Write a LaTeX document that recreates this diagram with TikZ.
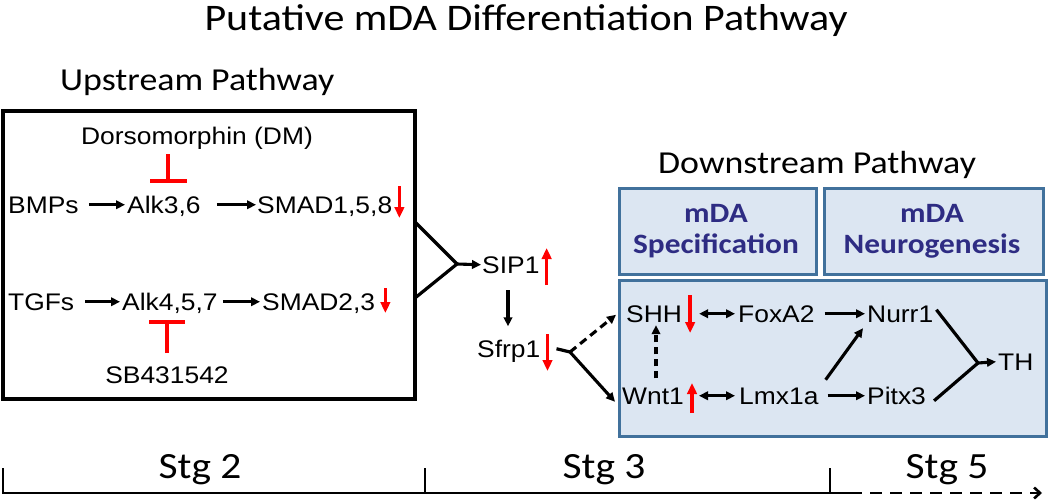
\documentclass[tikz,border=0pt]{standalone}
\usepackage{fontspec}
\setmainfont{Liberation Sans}[FakeStretch=1.1]
\newfontfamily\calfont{Carlito}[FakeStretch=1.12]
\usetikzlibrary{arrows.meta,calc}
\definecolor{boxfill}{HTML}{DCE6F2}
\definecolor{boxline}{HTML}{41719C}
\definecolor{spectext}{HTML}{2E2C83}
\newcommand{\fsz}[1]{\fontsize{#1}{#1}\selectfont}
\tikzset{
  txt/.style={anchor=base west, inner sep=0pt, text height=16.5pt, text depth=0pt, font=\fsz{24}},
  ctxt/.style={txt, anchor=base},
  hdr/.style={anchor=base west, inner sep=0pt, font=\calfont\fsz{32}},
  arr/.style={line width=3.1pt, -{Triangle[length=9pt,width=8.5pt]}},
  darr/.style={line width=3.1pt, {Triangle[length=9pt,width=8.5pt]}-{Triangle[length=9pt,width=8.5pt]}},
  dasharr/.style={arr, dash pattern=on 7pt off 4pt},
  plain/.style={line width=3.2pt},
  upr/.style={red, line width=3.4pt, -{Triangle[length=11pt,width=9.5pt]}},
  inh/.style={red, line width=3.4pt},
  bluebox/.style={draw=boxline, fill=boxfill, line width=3pt},
  spec/.style={inner sep=0pt, align=center, text=spectext, font=\calfont\bfseries\fsz{28}},
  stg/.style={anchor=base, inner sep=0pt, font=\calfont\fsz{37}},
  tl/.style={line width=2.6pt},
}
\begin{document}
\begin{tikzpicture}[x=1pt,y=-1pt]
\useasboundingbox (0,0) rectangle (1050,503);

% titles
\node[anchor=base, inner sep=0pt, font=\calfont\fsz{37.5}] (title) at (526,31) {Putative mDA Differentiation Pathway};
\node[hdr] (uptitle) at (60,90) {Upstream Pathway};
\node[hdr] (downtitle) at (658,173) {Downstream Pathway};

% upstream box
\draw[line width=3.5pt] (3,111) rectangle (415,399);
\node[ctxt] (dm) at (197,144) {Dorsomorphin (DM)};
\node[txt] (bmps) at (8,213) {BMPs};
\node[txt] (alk36) at (127,213) {Alk3,6};
\node[txt] (smad158) at (257,213) {SMAD1,5,8};
\node[txt] (tgfs) at (8,310) {TGFs};
\node[txt] (alk457) at (122,310) {Alk4,5,7};
\node[txt] (smad23) at (262,310) {SMAD2,3};
\node[ctxt] (sb) at (167,383) {SB431542};

\draw[arr] ([xshift=10pt]bmps.east) -- ([xshift=-2pt]alk36.west);
\draw[arr] ([xshift=16pt]alk36.east) -- ([xshift=-1pt]smad158.west);
\draw[arr] ([xshift=11pt]tgfs.east) -- ([xshift=-2pt]alk457.west);
\draw[arr] ([xshift=5pt]alk457.east) -- ([xshift=-2pt]smad23.west);

% inhibitors
\coordinate (dmtop) at (168,154);
\coordinate (dmbar) at (168,181);
\draw[inh] (dmtop) -- (dmbar) (150,181) -- (187,181);
\coordinate (sbbot) at (167,353);
\coordinate (sbbar) at (167,322);
\draw[inh] (sbbot) -- (sbbar) (149,322) -- (185,322);

% red indicators upstream
\draw[upr] ($(smad158.base east)+(7,-27)$) -- ($(smad158.base east)+(7,5)$);
\draw[upr] ($(smad23.base east)+(10,-22)$) -- ($(smad23.base east)+(10,3)$);

% merge to SIP1
\coordinate (up1) at (415,222);
\coordinate (up2) at (415,298);
\coordinate (v1) at (457,264);
\node[txt] (sip1) at (482,273) {SIP1};
\node[txt] (sfrp1) at (477,357) {Sfrp1};
\draw[plain] (up1) -- (v1) -- (up2);
\draw[arr] (v1) -- ([xshift=-1pt]sip1.west);
\draw[upr] ($(sip1.base east)+(7,12)$) -- ($(sip1.base east)+(7,-25)$);
\draw[arr] ([yshift=-17pt]sip1.south -| 508,0) -- ([yshift=14pt]sfrp1.north -| 508,0);
\draw[upr] ($(sfrp1.base east)+(7,-23)$) -- ($(sfrp1.base east)+(7,14)$);

% downstream boxes
\node[bluebox, minimum width=197pt, minimum height=86pt, anchor=north west] (specbox) at (618,187) {};
\node[bluebox, minimum width=219pt, minimum height=86pt, anchor=north west] (neurobox) at (823,187) {};
\node[bluebox, minimum width=427pt, minimum height=156pt, anchor=north west] (bigbox) at (618,279) {};
\node[spec, anchor=base] (spec1) at (716,222) {mDA};
\node[spec, anchor=base] (spec2) at (716,253) {Specification};
\node[spec, anchor=base] (neuro1) at (932,222) {mDA};
\node[spec, anchor=base] (neuro2) at (932,253) {Neurogenesis};

% Sfrp1 fork
\coordinate (f0) at (570,352);
\node[txt] (shh) at (626,322) {SHH};
\node[txt] (foxa2) at (738,322) {FoxA2};
\node[txt] (nurr1) at (867,322) {Nurr1};
\node[txt] (wnt1) at (622,404) {Wnt1};
\node[txt] (lmx1a) at (739,404) {Lmx1a};
\node[txt] (pitx3) at (867,404) {Pitx3};
\node[txt] (th) at (998,370) {TH};
\draw[plain] ([xshift=16pt]sfrp1.east) -- (f0);
\draw[dasharr, dash pattern=on 8pt off 5pt] (f0) -- ([xshift=-10pt,yshift=-1pt]shh.west);
\draw[arr] (f0) -- ([xshift=-7pt,yshift=-6pt]wnt1.west);

% red indicators downstream
\draw[upr] ($(shh.base east)+(8,-27)$) -- ($(shh.base east)+(8,11)$);
\draw[upr] ($(wnt1.base east)+(8,9)$) -- ($(wnt1.base east)+(8,-21)$);

% downstream connectors
\draw[darr] ([xshift=17pt]shh.east) -- ([xshift=-3pt]foxa2.west);
\draw[arr] ([xshift=10pt]foxa2.east) -- ([xshift=-2pt]nurr1.west);
\draw[darr] ([xshift=15pt]wnt1.east) -- ([xshift=-4pt]lmx1a.west);
\draw[arr] ([xshift=9pt]lmx1a.east) -- ([xshift=-2pt]pitx3.west);
\draw[arr] ([xshift=7pt,yshift=16pt]lmx1a.east) -- ([xshift=-4pt,yshift=-6pt]nurr1.south west);
\draw[dasharr, dash pattern=on 7pt off 5pt] ([yshift=9pt]wnt1.north -| 656,0) -- ([yshift=-3pt]shh.south -| 656,0);
\coordinate (v2) at (978,363);
\draw[plain] ([xshift=3pt,yshift=4pt]nurr1.east) -- (v2) -- ([xshift=8pt,yshift=-5pt]pitx3.east);
\draw[arr] (v2) -- ([xshift=-2pt]th.west);

% timeline
\coordinate (t0) at (3,468);
\coordinate (t1) at (425,468);
\coordinate (t2) at (830,468);
\coordinate (tend) at (1042,493);
\draw[tl] (t0) -- (3,493) -- (850,493);
\draw[tl] (t1) -- (425,493);
\draw[tl] (t2) -- (830,493);
\draw[tl, dash pattern=on 12pt off 8pt, -{Straight Barb[length=6pt,width=11pt]}] (850,493) -- (tend);
\node[stg] (stg2) at (200,478) {Stg 2};
\node[stg] (stg3) at (604,478) {Stg 3};
\node[stg] (stg5) at (947,478) {Stg 5};
\end{tikzpicture}
\end{document}
